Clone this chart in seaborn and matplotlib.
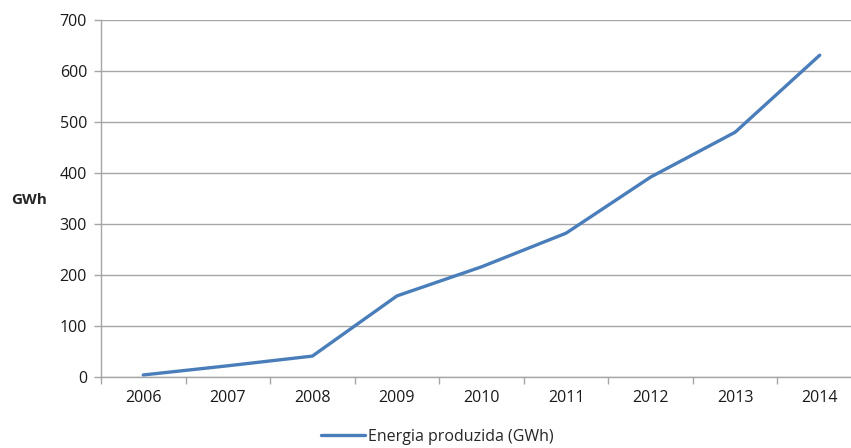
import matplotlib
matplotlib.use("Agg")
import matplotlib.pyplot as plt
import seaborn as sns
import pandas as pd
import numpy as np

years = ["2006", "2007", "2008", "2009", "2010", "2011", "2012", "2013", "2014"]
energy = [4, 22, 41, 159, 216, 282, 392, 480, 631]
series_name = "Energia produzida (GWh)"

df = pd.DataFrame({"Ano": years, "GWh": energy, "serie": series_name})

sns.set_theme(style="white")
plt.rcParams['font.family'] = ['Open Sans', 'DejaVu Sans']

fig = plt.figure(figsize=(8.51, 4.48), dpi=100)
ax = fig.add_axes([101/851, 1-377/448, 761/851, (377-20)/448])

sns.lineplot(data=df, x="Ano", y="GWh", hue="serie", palette=["#4a7ebb"],
             linewidth=2.4, ax=ax, sort=False, legend=True)

ax.set_ylim(0, 700)
ax.set_yticks(range(0, 701, 100))
ax.set_xlim(-0.5, len(years) - 0.5)
ax.set_xticks(range(len(years)))
ax.set_xticklabels(years)
ax.set_xticks(np.arange(-0.5, len(years), 1.0), minor=True)
ax.tick_params(axis="x", which="major", length=0, pad=9, labelsize=11.5, colors="#1a1a1a")
ax.tick_params(axis="x", which="minor", length=5, width=1, color="#a6a6a6", bottom=True)
ax.tick_params(axis="y", length=5, width=1, color="#a6a6a6", left=True, labelsize=11.5, pad=5)
for lbl in ax.get_yticklabels():
    lbl.set_color("#1a1a1a")

ax.yaxis.grid(True, color="#a6a6a6", linewidth=1)
ax.xaxis.grid(False)
for s in ["top", "right"]:
    ax.spines[s].set_visible(False)
for s in ["left", "bottom"]:
    ax.spines[s].set_color("#a6a6a6")
    ax.spines[s].set_linewidth(1)

ax.set_xlabel("")
ax.set_ylabel("GWh", rotation=0, fontweight="bold", fontsize=11, labelpad=10)
ax.yaxis.set_label_coords(-0.094, 0.475)

handles, labels = ax.get_legend_handles_labels()
ax.get_legend().remove()
fig.legend(handles, labels, loc="center", bbox_to_anchor=(437/851, 1-437/448),
           frameon=False, fontsize=11.5, handlelength=2.8, handletextpad=0.15)

fig.savefig("out.png", dpi=100)
